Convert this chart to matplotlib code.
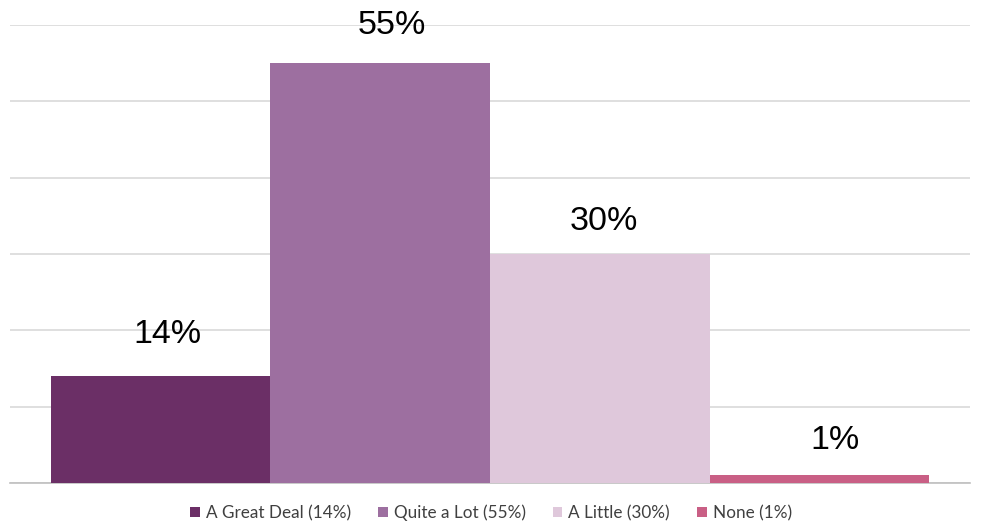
import matplotlib
matplotlib.use("Agg")
import matplotlib.pyplot as plt
from matplotlib.patches import Patch

categories = ["A Great Deal", "Quite a Lot", "A Little", "None"]
values = [14, 55, 30, 1]
legend_labels = ["A Great Deal (14%)", "Quite a Lot (55%)", "A Little (30%)", "None (1%)"]
colors = ["#6B2F66", "#9D6FA0", "#DFC8DB", "#C95F85"]

# label placement tweaks (pixels): horizontal shift, gap above bar
label_dx = [7, 12, 4, 16]
label_gap = [33, 29, 24, 26]

fig = plt.figure(figsize=(9.84, 5.30), dpi=100)
ax = fig.add_axes([10/984, 1-483/530, 960/984, (483-25)/530])

x = list(range(len(categories)))
bars = ax.bar(x, values, width=1.0, color=colors, edgecolor="none", zorder=3)

ax.set_xlim(-0.5-0.186, 3.5+0.186)
ax.set_ylim(0, 60)
ax.set_yticks(range(0, 61, 10))
ax.yaxis.grid(True, color="#D9D9D9", linewidth=1.2, zorder=0)
ax.set_axisbelow(True)
for s in ["top", "right", "left"]:
    ax.spines[s].set_visible(False)
ax.spines["bottom"].set_color("#BFBFBF")
ax.spines["bottom"].set_linewidth(1.2)
ax.tick_params(left=False, bottom=False, labelleft=False, labelbottom=False)

for xi, v, dx, gap in zip(x, values, label_dx, label_gap):
    ax.annotate(f"{v}%", (xi, v), xytext=(dx, gap), textcoords="offset pixels",
                ha="center", va="baseline", fontsize=24.5, family="Liberation Sans",
                color="#000000", zorder=5)

handles = [Patch(facecolor=c, edgecolor="none") for c in colors]
leg = fig.legend(handles, legend_labels, loc="center", bbox_to_anchor=(491/984, 1-513/530),
                 ncol=4, frameon=False, prop={"family": "Lato", "size": 12.3},
                 handlelength=0.55, handleheight=0.55, handletextpad=0.35, columnspacing=1.6)
for t in leg.get_texts():
    t.set_color("#404040")

fig.savefig("out.png", dpi=100)
